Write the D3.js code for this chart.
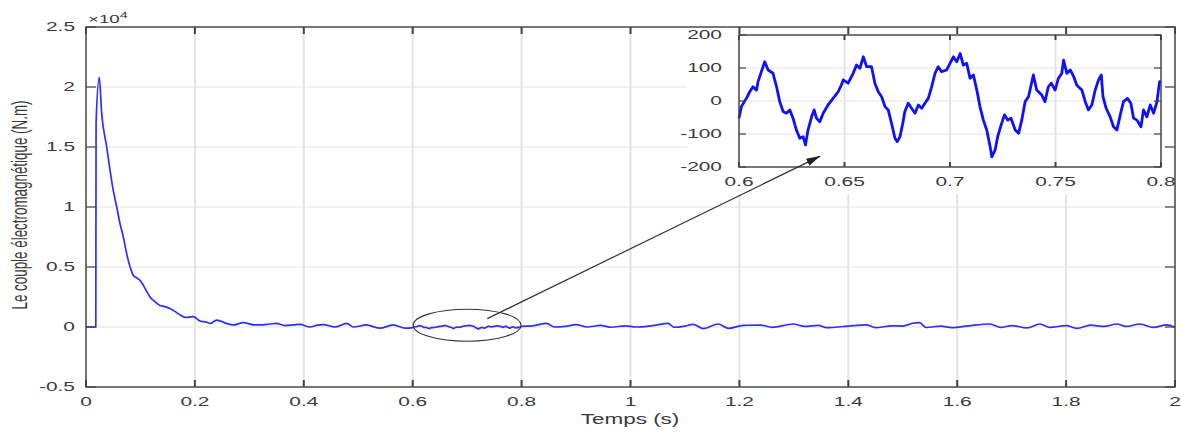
<!DOCTYPE html>
<html>
<head>
<meta charset="utf-8">
<script src="https://cdn.jsdelivr.net/npm/d3@7"></script>
<style>
  body { margin: 0; background: #fff; }
  text { font-family: "Liberation Sans", Arial, sans-serif; fill: #3a3a3a; }
</style>
</head>
<body>
<svg id="chart" width="1181" height="433"></svg>
<script>
// start-up transient (s, N.m)
const startTime = [0, 0.018, 0.0185, 0.0244, 0.0288, 0.038, 0.044, 0.050, 0.0564, 0.0625, 0.0685, 0.0747,
  0.081, 0.087, 0.093, 0.099, 0.105, 0.111, 0.1175, 0.127, 0.136, 0.145, 0.154, 0.163, 0.173, 0.182,
  0.197, 0.209, 0.222, 0.228, 0.24, 0.258, 0.27, 0.289, 0.31, 0.32, 0.338, 0.35, 0.365, 0.381, 0.393,
  0.411, 0.425, 0.436, 0.457, 0.479, 0.491, 0.515, 0.54, 0.564, 0.586];
const startTorque = [0, 0, 17000, 20800, 17800, 15000, 13100, 11400, 10000, 8600, 7500, 6100,
  5000, 4300, 4100, 3900, 3500, 3000, 2500, 2100, 1800, 1700, 1550, 1300, 1000, 800,
  860, 500, 400, 300, 580, 300, 170, 360, 170, 170, 250, 300, 120, 170, 220,
  0, 150, 200, 0, 300, 0, 170, -100, 170, -100];

// zoomed window 0.6 - 0.8 s (N.m)
const zoomTime = [0.6, 0.6011, 0.6035, 0.6051, 0.6066, 0.6083, 0.609, 0.6106, 0.6122, 0.6138, 0.6161,
  0.6178, 0.6193, 0.6209, 0.6225, 0.6241, 0.6256, 0.6272, 0.6288, 0.6304, 0.6315, 0.6327, 0.6344,
  0.6356, 0.6367, 0.6383, 0.6399, 0.6422, 0.6446, 0.647, 0.6486, 0.6494, 0.6517, 0.6541, 0.6557,
  0.6573, 0.6589, 0.6605, 0.6628, 0.6644, 0.666, 0.6676, 0.6692, 0.6707, 0.6723, 0.6739, 0.675,
  0.6763, 0.6776, 0.6786, 0.6802, 0.6818, 0.6834, 0.685, 0.6866, 0.6881, 0.6897, 0.6913, 0.6929,
  0.6944, 0.696, 0.6984, 0.7, 0.7016, 0.7032, 0.7048, 0.7063, 0.7079, 0.7095, 0.7111, 0.7127, 0.7142,
  0.7158, 0.7174, 0.719, 0.7198, 0.7214, 0.7226, 0.7242, 0.7258, 0.7274, 0.7289, 0.7309, 0.7325,
  0.734, 0.7356, 0.7372, 0.7395, 0.7411, 0.7435, 0.745, 0.7466, 0.748, 0.7498, 0.7514, 0.753, 0.7538,
  0.7554, 0.757, 0.7586, 0.7601, 0.7625, 0.7641, 0.7656, 0.7672, 0.7688, 0.7704, 0.7717, 0.7725,
  0.774, 0.7759, 0.7775, 0.7791, 0.7807, 0.7822, 0.7841, 0.7857, 0.787, 0.7886, 0.7905, 0.7917,
  0.7933, 0.7949, 0.7965, 0.7981, 0.7993, 0.8];
const zoomTorque = [-52, -17, 8, 28, 43, 33, 58, 89, 119, 94, 84,
  43, -2, -32, -37, -27, -52, -88, -113, -108, -133, -88, -48,
  -27, -52, -63, -37, -12, 8, 28, 50, 64, 54, 84, 109,
  99, 134, 104, 104, 54, 28, 13, -17, -27, -68, -113, -123,
  -108, -68, -32, -7, -22, -37, -12, -22, -7, 8, 43, 84,
  104, 89, 94, 114, 134, 119, 144, 109, 114, 69, 79, 33, -17,
  -58, -88, -138, -169, -148, -108, -73, -42, -58, -52, -88, -98,
  -58, -2, 13, 79, 33, 18, -2, 43, 54, 33, 69, 84, 124,
  84, 94, 74, 48, 33, -2, -27, -12, 33, 64, 79, 13,
  -22, -48, -78, -88, -42, -2, 8, -7, -52, -58, -78, -27,
  -48, -12, -37, -2, 58, 60];

// steady state after 0.8 s (N.m)
const lateTime = [0.82, 0.846, 0.86, 0.88, 0.90, 0.92, 0.945, 0.965, 0.99, 1.01, 1.04, 1.069, 1.08, 1.10,
  1.115, 1.134, 1.161, 1.18, 1.207, 1.24, 1.26, 1.299, 1.32, 1.345, 1.36, 1.40, 1.433, 1.45, 1.48, 1.50,
  1.518, 1.531, 1.543, 1.57, 1.59, 1.62, 1.66, 1.68, 1.70, 1.728, 1.752, 1.77, 1.80, 1.82, 1.845, 1.87,
  1.893, 1.91, 1.936, 1.96, 1.985, 2.0];
const lateTorque = [100, 310, 0, 50, 200, 0, 130, -20, 100, 0, 110, 310, -20, 80,
  220, -140, 250, -110, 140, 150, -30, 250, 50, 140, -60, 80, 170, -60, 100, 80,
  310, 360, -40, 80, -50, 90, 250, -30, 120, -80, 250, -30, 110, -110, 150, 50,
  250, 50, 250, -30, 170, -30];

// ticks
const mainXTicks = [0, 0.2, 0.4, 0.6, 0.8, 1, 1.2, 1.4, 1.6, 1.8, 2];
const mainYTicks = [-5000, 0, 5000, 10000, 15000, 20000, 25000];
const mainYTickLabels = ["-0.5", "0", "0.5", "1", "1.5", "2", "2.5"];
const zoomXTicks = [0.6, 0.65, 0.7, 0.75, 0.8];
const zoomXTickLabels = ["0.6", "0.65", "0.7", "0.75", "0.8"];
const zoomYTicks = [-200, -100, 0, 100, 200];

const svg = d3.select("#chart");
const SX = 1.7; // the picture is stretched sideways

// **main axes**
const x = d3.scaleLinear().domain([0, 2]).range([86, 1175]);
const y = d3.scaleLinear().domain([-5000, 25000]).range([387, 27]);

// **inset axes**
const xi = d3.scaleLinear().domain([0.6, 0.8]).range([739, 1161]);
const yi = d3.scaleLinear().domain([-200, 200]).range([167, 35]);

function label(g, px, py, str, anchor, size, sx) {
  return g.append("text")
    .attr("transform", `translate(${px},${py}) scale(${sx},1)`)
    .attr("text-anchor", anchor)
    .style("font-size", size + "px")
    .text(str);
}

const mainData = [];
startTime.forEach((t, i) => mainData.push([t, startTorque[i]]));
zoomTime.forEach((t, i) => mainData.push([t, zoomTorque[i]]));
lateTime.forEach((t, i) => mainData.push([t, lateTorque[i]]));

// grid
const grid = svg.append("g");
grid.selectAll(".vg").data(mainXTicks).join("line")
  .attr("x1", d => x(d)).attr("x2", d => x(d))
  .attr("y1", y(25000)).attr("y2", y(-5000))
  .attr("stroke", "#e4e4e4").attr("stroke-width", 2);
grid.selectAll(".hg").data(mainYTicks).join("line")
  .attr("x1", x(0)).attr("x2", x(2))
  .attr("y1", d => y(d)).attr("y2", d => y(d))
  .attr("stroke", "#e4e4e4").attr("stroke-width", 1);

// main curve
const line = d3.line().x(d => x(d[0])).y(d => y(d[1])).curve(d3.curveMonotoneX);
svg.append("path").datum(mainData)
  .attr("d", line)
  .attr("fill", "none")
  .attr("stroke", "#2f2fff")
  .attr("stroke-width", 1.7)
  .attr("stroke-linejoin", "round");

// ellipse round the zoomed window
svg.append("ellipse")
  .attr("cx", x(0.7)).attr("cy", y(150))
  .attr("rx", (x(0.8) - x(0.6)) / 2 - 0.5).attr("ry", 16)
  .attr("fill", "none").attr("stroke", "#333").attr("stroke-width", 1.1);

// inset background
svg.append("rect")
  .attr("x", 687).attr("y", 28).attr("width", 476).attr("height", 166)
  .attr("fill", "#fff");

// main box + ticks
const ax = svg.append("g");
ax.append("rect")
  .attr("x", x(0)).attr("y", y(25000))
  .attr("width", x(2) - x(0)).attr("height", y(-5000) - y(25000))
  .attr("fill", "none").attr("stroke", "#444").attr("stroke-width", 1.4);
ax.selectAll(".xb").data(mainXTicks).join("line")
  .attr("x1", d => x(d)).attr("x2", d => x(d))
  .attr("y1", y(-5000)).attr("y2", y(-5000) - 7)
  .attr("stroke", "#444").attr("stroke-width", 2);
ax.selectAll(".xt").data(mainXTicks).join("line")
  .attr("x1", d => x(d)).attr("x2", d => x(d))
  .attr("y1", y(25000)).attr("y2", y(25000) + 7)
  .attr("stroke", "#444").attr("stroke-width", 2);
ax.selectAll(".yl").data(mainYTicks).join("line")
  .attr("x1", x(0)).attr("x2", x(0) + 10)
  .attr("y1", d => y(d)).attr("y2", d => y(d))
  .attr("stroke", "#444").attr("stroke-width", 1.2);
ax.selectAll(".yr").data(mainYTicks).join("line")
  .attr("x1", x(2)).attr("x2", x(2) - 10)
  .attr("y1", d => y(d)).attr("y2", d => y(d))
  .attr("stroke", "#444").attr("stroke-width", 1.2);

mainXTicks.forEach(d => label(ax, x(d), 405.5, String(d), "middle", 12.3, SX));
mainYTicks.forEach((d, i) => label(ax, 75, y(d) + 4.3, mainYTickLabels[i], "end", 12.3, SX));

// x10^4 multiplier
const mult = ax.append("text")
  .attr("transform", `translate(88,23.3) scale(${SX},1)`)
  .style("font-size", "11px");
mult.append("tspan").text("\u00d710");
mult.append("tspan").attr("dy", -5).style("font-size", "8.5px").text("4");

// axis titles
label(ax, 630, 424, "Temps (s)", "middle", 15, 1.5);
ax.append("text")
  .attr("transform", `translate(26.5,205) scale(${SX},1) rotate(-90)`)
  .attr("text-anchor", "middle")
  .style("font-size", "13.4px")
  .text("Le couple électromagnétique (N.m)");

// **inset**
const ins = svg.append("g");
ins.selectAll(".ivg").data(zoomXTicks).join("line")
  .attr("x1", d => xi(d)).attr("x2", d => xi(d))
  .attr("y1", yi(200)).attr("y2", yi(-200))
  .attr("stroke", "#e4e4e4").attr("stroke-width", 2);
ins.selectAll(".ihg").data(zoomYTicks).join("line")
  .attr("x1", xi(0.6)).attr("x2", xi(0.8))
  .attr("y1", d => yi(d)).attr("y2", d => yi(d))
  .attr("stroke", "#e4e4e4").attr("stroke-width", 1);

const zoomData = zoomTime.map((t, i) => [t, zoomTorque[i]]);
ins.append("path").datum(zoomData)
  .attr("d", d3.line().x(d => xi(d[0])).y(d => yi(d[1])))
  .attr("fill", "none")
  .attr("stroke", "#1010ff")
  .attr("stroke-width", 2.8)
  .attr("stroke-linejoin", "round");

ins.append("rect")
  .attr("x", xi(0.6)).attr("y", yi(200))
  .attr("width", xi(0.8) - xi(0.6)).attr("height", yi(-200) - yi(200))
  .attr("fill", "none").attr("stroke", "#444").attr("stroke-width", 1.4);
ins.selectAll(".ixb").data(zoomXTicks).join("line")
  .attr("x1", d => xi(d)).attr("x2", d => xi(d))
  .attr("y1", yi(-200)).attr("y2", yi(-200) - 5)
  .attr("stroke", "#444").attr("stroke-width", 2);
ins.selectAll(".ixt").data(zoomXTicks).join("line")
  .attr("x1", d => xi(d)).attr("x2", d => xi(d))
  .attr("y1", yi(200)).attr("y2", yi(200) + 5)
  .attr("stroke", "#444").attr("stroke-width", 2);
ins.selectAll(".iyl").data(zoomYTicks).join("line")
  .attr("x1", xi(0.6)).attr("x2", xi(0.6) + 7)
  .attr("y1", d => yi(d)).attr("y2", d => yi(d))
  .attr("stroke", "#444").attr("stroke-width", 1.2);
ins.selectAll(".iyr").data(zoomYTicks).join("line")
  .attr("x1", xi(0.8)).attr("x2", xi(0.8) - 7)
  .attr("y1", d => yi(d)).attr("y2", d => yi(d))
  .attr("stroke", "#444").attr("stroke-width", 1.2);

zoomXTicks.forEach((d, i) => label(ins, xi(d), 186, zoomXTickLabels[i], "middle", 12.3, SX));
zoomYTicks.forEach(d => label(ins, 722, yi(d) + 4.3, String(d), "end", 12.3, SX));

// arrow from the ellipse to the inset
const defs = svg.append("defs");
defs.append("marker")
  .attr("id", "head")
  .attr("viewBox", "0 0 14 8")
  .attr("refX", 14).attr("refY", 4)
  .attr("markerWidth", 14).attr("markerHeight", 8)
  .attr("markerUnits", "userSpaceOnUse")
  .attr("orient", "auto")
  .append("path").attr("d", "M0,0 L14,4 L0,8 Z").attr("fill", "#222");

svg.append("line")
  .attr("x1", x(0.737)).attr("y1", y(700))
  .attr("x2", xi(0.6385)).attr("y2", yi(-167))
  .attr("stroke", "#333").attr("stroke-width", 1.2)
  .attr("marker-end", "url(#head)");
</script>
</body>
</html>
